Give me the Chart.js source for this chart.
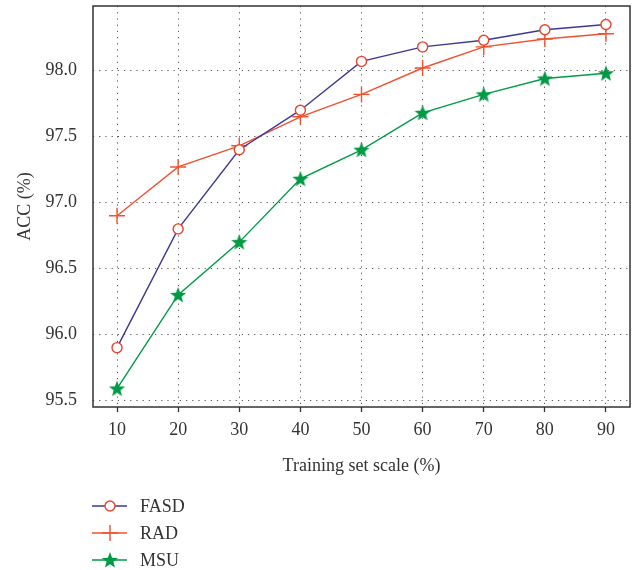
<!DOCTYPE html>
<html>
<head>
<meta charset="utf-8">
<script src="https://cdn.jsdelivr.net/npm/chart.js@4/dist/chart.umd.min.js"></script>
<style>
  html, body { margin: 0; padding: 0; background: #fff; }
  canvas { display: block; }
</style>
</head>
<body>
<canvas id="grafica" width="634" height="570"></canvas>
<script>
// training set scale (%)
var escala = [10, 20, 30, 40, 50, 60, 70, 80, 90]
// ACC (%) per method
var fasd = [95.90, 96.80, 97.40, 97.70, 98.07, 98.18, 98.23, 98.31, 98.35]
var rad  = [96.90, 97.27, 97.43, 97.65, 97.82, 98.02, 98.18, 98.24, 98.28]
var msu  = [95.59, 96.30, 96.70, 97.18, 97.40, 97.68, 97.82, 97.94, 97.98]
var xTicks = [10, 20, 30, 40, 50, 60, 70, 80, 90]
var yTicks = [95.5, 96.0, 96.5, 97.0, 97.5, 98.0]

var serif = "'Liberation Serif', 'DejaVu Serif', serif"
var textColor = '#333'

function puntos(valores) {
  return escala.map(function (x, i) { return { x: x, y: valores[i] } })
}

// filled five point star used as marker for MSU
function estrella(color, size) {
  var c = document.createElement('canvas')
  c.width = size; c.height = size
  var g = c.getContext('2d')
  var cx = size / 2, cy = size / 2 + 0.6, R = size / 2 - 0.5, r = R * 0.42
  g.beginPath()
  for (var i = 0; i < 10; i++) {
    var a = -Math.PI / 2 + i * Math.PI / 5
    var rr = i % 2 === 0 ? R : r
    g.lineTo(cx + rr * Math.cos(a), cy + rr * Math.sin(a))
  }
  g.closePath()
  g.fillStyle = color
  g.fill()
  return c
}
var star = estrella('#009a44', 18)

function sinPadding(scale) {
  scale.paddingTop = 0
  scale.paddingBottom = 0
  scale.paddingLeft = 0
  scale.paddingRight = 0
}

var leyenda = {
  id: 'leyenda',
  afterDraw: function (chart) {
    var ctx = chart.ctx
    var filas = [506, 533, 560]
    chart.data.datasets.forEach(function (ds, i) {
      var y = filas[i]
      ctx.save()
      ctx.strokeStyle = ds.borderColor
      ctx.lineWidth = 1.4
      ctx.beginPath()
      ctx.moveTo(92, y); ctx.lineTo(127, y)
      ctx.stroke()
      var mx = 110
      if (ds.pointStyle === 'circle') {
        ctx.beginPath()
        ctx.arc(mx, y, ds.pointRadius, 0, Math.PI * 2)
        ctx.fillStyle = '#fff'
        ctx.fill()
        ctx.strokeStyle = ds.pointBorderColor
        ctx.lineWidth = ds.pointBorderWidth
        ctx.stroke()
      } else if (ds.pointStyle === 'cross') {
        ctx.strokeStyle = ds.pointBorderColor
        ctx.lineWidth = ds.pointBorderWidth
        ctx.beginPath()
        ctx.moveTo(mx - ds.pointRadius, y); ctx.lineTo(mx + ds.pointRadius, y)
        ctx.moveTo(mx, y - ds.pointRadius); ctx.lineTo(mx, y + ds.pointRadius)
        ctx.stroke()
      } else {
        ctx.drawImage(ds.pointStyle, mx - ds.pointStyle.width / 2, y - ds.pointStyle.height / 2)
      }
      ctx.fillStyle = textColor
      ctx.font = '18px ' + serif
      ctx.textBaseline = 'middle'
      ctx.textAlign = 'left'
      ctx.fillText(ds.label, 140, y + 1)
      ctx.restore()
    })
  }
}

var marco = {
  id: 'marco',
  beforeDatasetsDraw: function (chart) {
    var a = chart.chartArea
    var ctx = chart.ctx
    ctx.save()
    ctx.strokeStyle = '#333'
    ctx.lineWidth = 1.5
    ctx.strokeRect(a.left, a.top, a.right - a.left, a.bottom - a.top)
    ctx.restore()
  }
}

function accChart(ctx) {
  return new Chart(ctx, {
    type: 'line',
    data: {
      datasets: [
        {
          label: 'FASD',
          data: puntos(fasd),
          borderColor: '#3d3794',
          borderWidth: 1.4,
          pointStyle: 'circle',
          pointRadius: 5,
          pointBorderColor: '#e8432c',
          pointBackgroundColor: '#fff',
          pointBorderWidth: 1.4,
          tension: 0
        },
        {
          label: 'RAD',
          data: puntos(rad),
          borderColor: '#f0512f',
          borderWidth: 1.4,
          pointStyle: 'cross',
          pointRadius: 8,
          pointBorderColor: '#f0512f',
          pointBorderWidth: 1.4,
          tension: 0
        },
        {
          label: 'MSU',
          data: puntos(msu),
          borderColor: '#009a44',
          borderWidth: 1.4,
          pointStyle: star,
          pointRadius: 9,
          tension: 0
        }
      ]
    },
    options: {
      responsive: false,
      animation: false,
      devicePixelRatio: 1,
      layout: { autoPadding: false, padding: { left: 0, right: 4, top: 6, bottom: 88 } },
      plugins: {
        legend: { display: false },
        tooltip: { enabled: false }
      },
      scales: {
        x: {
          type: 'linear',
          min: 6.07,
          max: 93.93,
          afterBuildTicks: function (scale) {
            scale.ticks = xTicks.map(function (v) { return { value: v } })
          },
          afterFit: function (scale) { scale.height = 75; sinPadding(scale) },
          ticks: {
            color: textColor,
            font: { family: serif, size: 18 },
            padding: 7,
            maxRotation: 0,
            callback: function (v) { return String(v) }
          },
          grid: {
            color: '#555',
            lineWidth: 1,
            drawTicks: true,
            tickLength: 5,
            tickColor: '#333',
            tickWidth: 1.3,
            tickBorderDash: []
          },
          border: { display: false, dash: [1.2, 5] },
          title: {
            display: true,
            text: 'Training set scale (%)',
            color: textColor,
            font: { family: serif, size: 18 },
            padding: { top: 0, bottom: 5 }
          }
        },
        y: {
          type: 'linear',
          min: 95.45,
          max: 98.49,
          afterBuildTicks: function (scale) {
            scale.ticks = yTicks.map(function (v) { return { value: v } })
          },
          afterFit: function (scale) { scale.width = 93; sinPadding(scale) },
          ticks: {
            color: textColor,
            font: { family: serif, size: 18 },
            padding: 16,
            callback: function (v) { return Number(v).toFixed(1) }
          },
          grid: {
            color: '#555',
            lineWidth: 1,
            drawTicks: false
          },
          border: { display: false, dash: [1.2, 5] },
          title: {
            display: true,
            text: 'ACC (%)',
            color: textColor,
            font: { family: serif, size: 18 },
            padding: { top: 14, bottom: 0 }
          }
        }
      }
    },
    plugins: [marco, leyenda]
  })
}

accChart(document.getElementById('grafica').getContext('2d'))
</script>
</body>
</html>
